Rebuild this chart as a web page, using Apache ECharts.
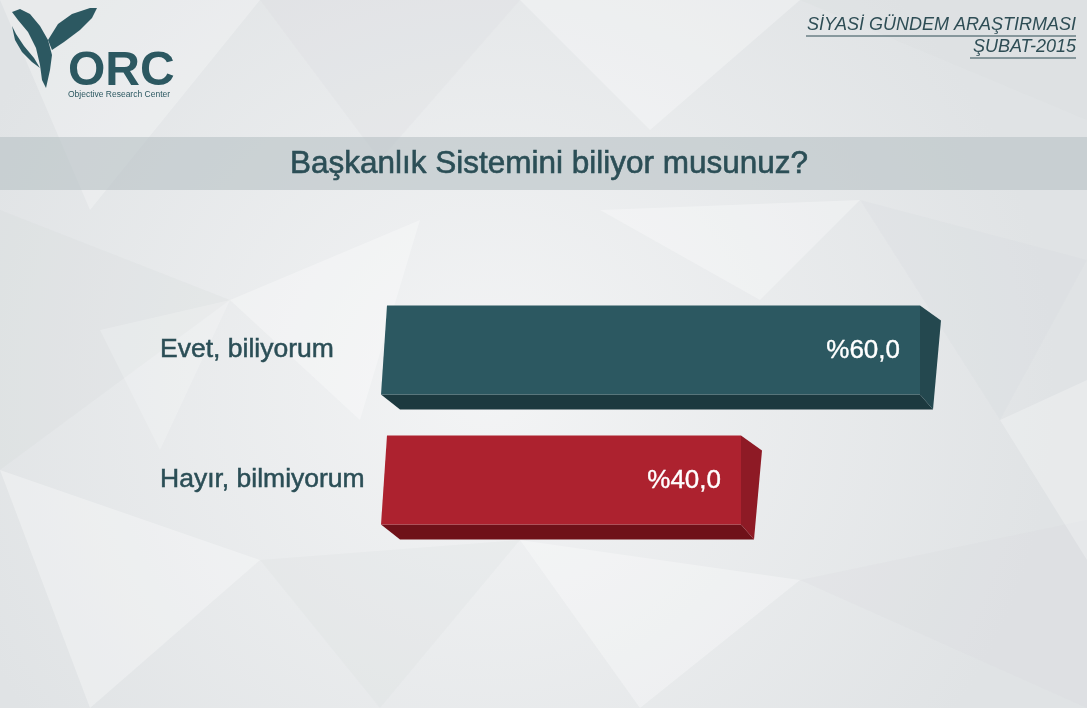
<!DOCTYPE html>
<html><head><meta charset="utf-8">
<script src="https://cdn.jsdelivr.net/npm/echarts@6/dist/echarts.min.js"></script>
<style>html,body{margin:0;padding:0;background:#e9ebec}#c{width:1087px;height:708px}</style>
</head><body><div id="c"></div>
<script>
const categories = ['Evet, biliyorum', 'Hayır, bilmiyorum'];
const values = [60.0, 40.0];
const valueLabels = ['%60,0', '%40,0'];
const titleText = 'Başkanlık Sistemini biliyor musunuz?';
const headerLines = ['SİYASİ GÜNDEM ARAŞTIRMASI', 'ŞUBAT-2015'];

const palette = [
  {front:'#2c5861', bottom:'#1c393f', side:'#24484f'},
  {front:'#ad222f', bottom:'#6f1119', side:'#8e1a25'}
];

const chart = echarts.init(document.getElementById('c'));

function tri(pts, fill, op){
  return {type:'polygon', silent:true, z:-10, shape:{points:pts}, style:{fill:fill, opacity:op}};
}
const bgPolys = [
  tri([[0,0],[260,0],[90,210]],'#ffffff',0.25),
  tri([[260,0],[520,0],[380,160]],'#d5d9db',0.2),
  tri([[520,0],[800,0],[650,130]],'#ffffff',0.3),
  tri([[800,0],[1087,0],[1087,120]],'#d7dbdd',0.2),
  tri([[0,210],[230,300],[0,470]],'#d3d7d9',0.2),
  tri([[230,300],[420,220],[360,420]],'#ffffff',0.3),
  tri([[600,210],[860,200],[760,300]],'#ffffff',0.3),
  tri([[860,200],[1087,260],[1000,420]],'#d4d8da',0.2),
  tri([[0,470],[260,560],[90,708]],'#ffffff',0.3),
  tri([[260,560],[520,540],[380,708]],'#d6dadc',0.2),
  tri([[520,540],[800,580],[640,708]],'#ffffff',0.3),
  tri([[800,580],[1087,520],[1087,708]],'#d5d9db',0.2),
  tri([[1000,420],[1087,380],[1087,560]],'#ffffff',0.25),
  tri([[100,330],[230,300],[160,450]],'#ffffff',0.2)
];

const logoColor = '#2c5861';
const textColor = '#2b4e56';
const option = {
  backgroundColor: {
    type:'radial', x:0.45, y:0.55, r:0.8,
    colorStops:[{offset:0,color:'#f3f4f5'},{offset:1,color:'#e0e3e5'}]
  },
  graphic: bgPolys.concat([
    {type:'rect', silent:true, z:-5, shape:{x:0,y:137,width:1087,height:53}, style:{fill:'#b8c2c5', opacity:0.6}},
    {type:'text', x:549, y:164, style:{text:titleText, font:'31.5px "Liberation Sans", Arial, sans-serif', fill:textColor, stroke:textColor, lineWidth:0.6, align:'center', verticalAlign:'middle'}},
    {type:'text', x:1076, y:25, style:{text:headerLines[0], font:'italic 18px "Liberation Sans", sans-serif', fill:'#2e4d55', align:'right', verticalAlign:'middle'}},
    {type:'text', x:1076, y:47, style:{text:headerLines[1], font:'italic 18px "Liberation Sans", sans-serif', fill:'#2e4d55', align:'right', verticalAlign:'middle'}},
    {type:'line', shape:{x1:806,y1:36,x2:1076,y2:36}, style:{stroke:'#2e4d55', lineWidth:1}},
    {type:'line', shape:{x1:970,y1:58,x2:1076,y2:58}, style:{stroke:'#2e4d55', lineWidth:1}},
    // logo
    {type:'polygon', shape:{points:[[12,12],[20,9],[30,14],[40,26],[48,40],[52,55],[50,70],[46,88],[42,80],[40,65],[36,48],[28,32],[18,20]]}, style:{fill:logoColor}},
    {type:'polygon', shape:{points:[[48,40],[58,24],[72,14],[90,8],[97,8],[92,18],[80,30],[64,42],[52,50]]}, style:{fill:logoColor}},
    {type:'polygon', shape:{points:[[12,26],[15,40],[22,52],[32,62],[40,68],[34,58],[24,46],[16,34]]}, style:{fill:logoColor}},
    {type:'text', x:68, y:72, style:{text:'ORC', font:'bold 48px "Liberation Sans", sans-serif', fill:logoColor, verticalAlign:'middle'}},
    {type:'text', x:68, y:95, style:{text:'Objective Research Center', font:'8.5px "Liberation Sans", sans-serif', fill:logoColor, verticalAlign:'middle'}}
  ]),
  grid: {left:383, top:285, height:260, width:626.5},
  xAxis: {type:'value', min:0, max:70, show:false},
  yAxis: {
    type:'category', data:categories, inverse:true,
    axisLine:{show:false}, axisTick:{show:false},
    axisLabel:{align:'left', margin:223, fontSize:26.5, color:textColor, textBorderColor:textColor, textBorderWidth:0.5, fontFamily:'"Liberation Sans", Arial, sans-serif'}
  },
  series: [{
    type:'custom',
    data: values.map((v,i)=>[v,i]),
    encode:{x:0, y:1},
    renderItem: function(params, api){
      const i = api.value(1);
      const end = api.coord([api.value(0), i]);
      const start = api.coord([0, i]);
      const band = api.size([0,1])[1];
      const h = band*0.685;
      const y0 = end[1]-h/2, y1 = end[1]+h/2;
      const x0 = start[0], xe = end[0];
      const c = palette[i];
      return {type:'group', children:[
        {type:'polygon', shape:{points:[[x0-2,y1],[xe,y1],[xe+13,y1+15],[x0+17,y1+15]]}, style:{fill:c.bottom}},
        {type:'polygon', shape:{points:[[xe,y0],[xe+21,y0+15],[xe+13,y1+15],[xe,y1]]}, style:{fill:c.side}},
        {type:'polygon', shape:{points:[[x0+4,y0],[xe,y0],[xe,y1],[x0-2,y1]]}, style:{fill:c.front}},
        {type:'text', x:xe-20, y:end[1]+1, style:{text:valueLabels[i], font:'26px "Liberation Sans", Arial, sans-serif', fill:'#ffffff', stroke:'#ffffff', lineWidth:0.4, align:'right', verticalAlign:'middle'}}
      ]};
    }
  }]
};
chart.setOption(option);
</script></body></html>
